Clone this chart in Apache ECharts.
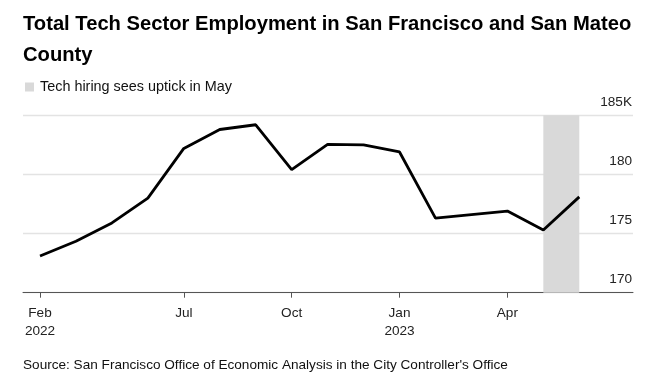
<!DOCTYPE html>
<html>
<head>
<meta charset="utf-8">
<script src="https://cdn.jsdelivr.net/npm/echarts@6/dist/echarts.min.js"></script>
<style>html,body{margin:0;padding:0;background:#fff}#c{width:656px;height:385px}</style>
</head>
<body>
<div id="c"></div>
<script>
// Month index 0..15 (monthly observations)
const monthIndex = [0,1,2,3,4,5,6,7,8,9,10,11,12,13,14,15];
const employmentK = [173.1,174.35,175.9,178.0,182.2,183.8,184.2,180.4,182.55,182.5,181.9,176.3,176.6,176.9,175.3,178.1];
const tickPositions = [0,4,7,10,13];
const tickLabels = ['Feb\n2022','Jul','Oct','Jan\n2023','Apr'];
const highlightRange = [14,15];
const highlightLabel = 'Tech hiring sees uptick in May';
const yTicks = [170,175,180,185];

const FONT = "'Liberation Sans', Arial, sans-serif";
const chart = echarts.init(document.getElementById('c'), null, {renderer:'canvas'});
chart.setOption({
  animation:false,
  backgroundColor:'#fff',
  textStyle:{fontFamily:FONT},
  title:{
    text:'Total Tech Sector Employment in San Francisco and San Mateo\nCounty',
    left:23, top:9, padding:0,
    textStyle:{fontFamily:FONT,fontSize:20.2,fontWeight:'bold',color:'#000',lineHeight:31}
  },
  legend:{
    left:25, top:80, padding:0, itemWidth:9, itemHeight:9, itemGap:6,
    icon:'rect',
    data:[highlightLabel],
    textStyle:{fontFamily:FONT,fontSize:14.4,color:'#111',padding:[0,0,0,1]}
  },
  grid:{left:23,right:23,top:115.3,bottom:92.3,containLabel:false},
  xAxis:{
    type:'value', min:-0.473, max:16.494,
    axisLine:{show:true,lineStyle:{color:'#555',width:1}},
    axisTick:{show:true,customValues:tickPositions,length:5,lineStyle:{color:'#555'}},
    axisLabel:{customValues:tickPositions,margin:12,fontSize:13.6,color:'#222',lineHeight:18,
      formatter:function(v){const i=tickPositions.indexOf(Math.round(v));return i>=0?tickLabels[i]:'';}},
    splitLine:{show:false}
  },
  yAxis:{
    type:'value', position:'right', min:170, max:185, interval:5,
    axisLine:{show:false}, axisTick:{show:false},
    axisLabel:{inside:true,margin:1,fontSize:13.6,color:'#222',verticalAlign:'bottom',padding:[0,0,6,0],
      formatter:function(v){return v===185?'185K':String(v);}},
    splitLine:{show:true,lineStyle:{color:'#e3e3e3',width:1.3}}
  },
  series:[
    {
      type:'line', name:'Employment',
      data:monthIndex.map((m,i)=>[m,employmentK[i]]),
      showSymbol:false, symbol:'none',
      lineStyle:{color:'#000',width:2.8},
      z:3,
      markArea:{silent:true,itemStyle:{color:'#d9d9d9'},
        data:[[{xAxis:highlightRange[0]},{xAxis:highlightRange[1]}]]}
    },
    {
      type:'line', name:highlightLabel, data:[],
      itemStyle:{color:'#d9d9d9'}, lineStyle:{color:'#d9d9d9'}
    }
  ],
  graphic:[{
    type:'text', left:23, top:358,
    style:{text:"Source: San Francisco Office of Economic Analysis in the City Controller's Office",
      font:"13.6px "+FONT, fill:'#111'}
  }]
});
</script>
</body>
</html>
